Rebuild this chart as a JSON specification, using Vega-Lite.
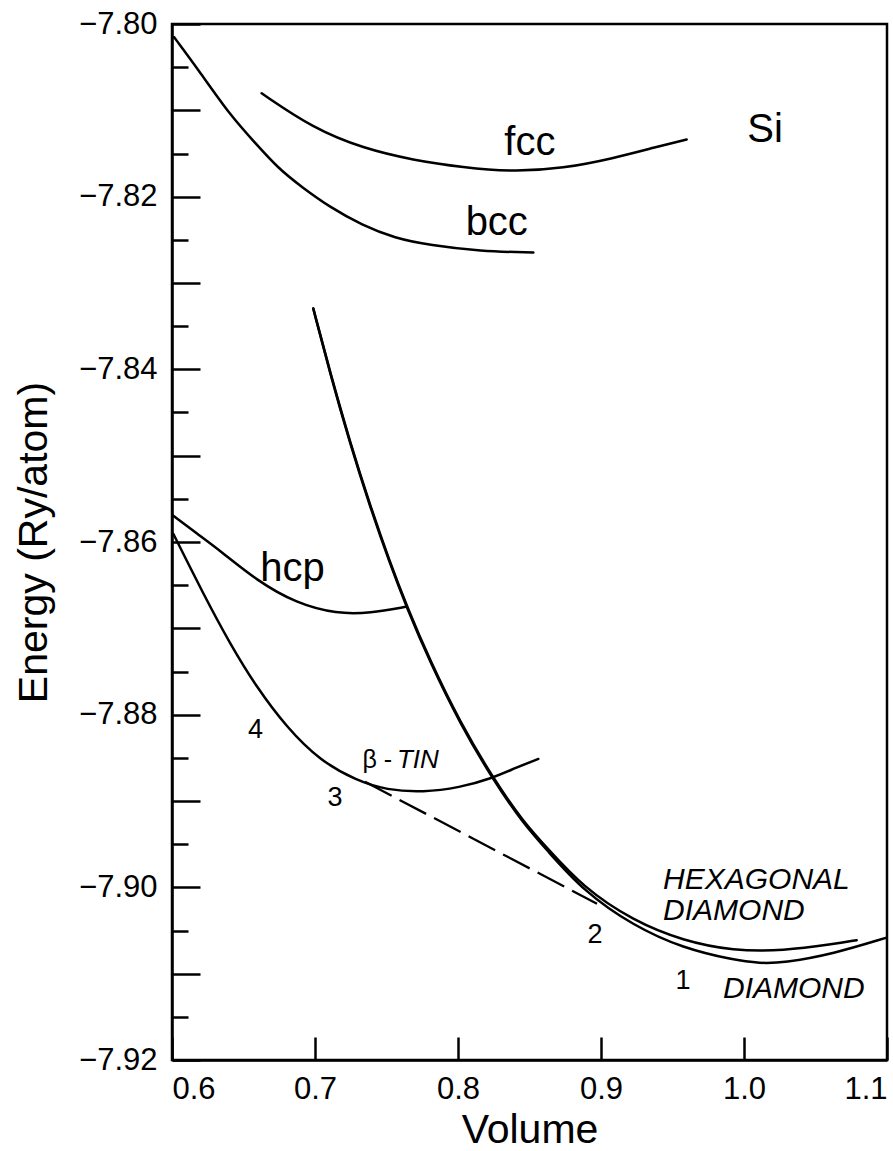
{
  "$schema": "https://vega.github.io/schema/vega-lite/v6.json",
  "width": 715,
  "height": 1036,
  "autosize": "none",
  "padding": {"left": 172, "top": 24, "right": 6, "bottom": 91},
  "background": "white",
  "config": {
    "font": "Liberation Sans",
    "view": {"stroke": "black", "strokeWidth": 2.5},
    "axis": {"domainColor": "black", "tickColor": "black", "labelColor": "black", "titleColor": "black", "grid": false}
  },
  "datasets": {
    "curves": [
      {"phase": "fcc", "v": 0.6627, "e": -7.80803},
      {"phase": "fcc", "v": 0.6988, "e": -7.81209},
      {"phase": "fcc", "v": 0.7338, "e": -7.81441},
      {"phase": "fcc", "v": 0.7687, "e": -7.81577},
      {"phase": "fcc", "v": 0.8037, "e": -7.81661},
      {"phase": "fcc", "v": 0.8385, "e": -7.81712},
      {"phase": "fcc", "v": 0.8736, "e": -7.81673},
      {"phase": "fcc", "v": 0.9084, "e": -7.81557},
      {"phase": "fcc", "v": 0.939, "e": -7.81423},
      {"phase": "fcc", "v": 0.9599, "e": -7.81337},
      {"phase": "bcc", "v": 0.6014, "e": -7.80151},
      {"phase": "bcc", "v": 0.6196, "e": -7.80557},
      {"phase": "bcc", "v": 0.6406, "e": -7.81055},
      {"phase": "bcc", "v": 0.658, "e": -7.81374},
      {"phase": "bcc", "v": 0.6743, "e": -7.81673},
      {"phase": "bcc", "v": 0.6909, "e": -7.8189},
      {"phase": "bcc", "v": 0.7105, "e": -7.82122},
      {"phase": "bcc", "v": 0.7329, "e": -7.8233},
      {"phase": "bcc", "v": 0.7559, "e": -7.82481},
      {"phase": "bcc", "v": 0.7804, "e": -7.82562},
      {"phase": "bcc", "v": 0.8154, "e": -7.82632},
      {"phase": "bcc", "v": 0.8527, "e": -7.82647},
      {"phase": "hcp", "v": 0.6007, "e": -7.85693},
      {"phase": "hcp", "v": 0.6173, "e": -7.85901},
      {"phase": "hcp", "v": 0.6336, "e": -7.86099},
      {"phase": "hcp", "v": 0.6592, "e": -7.86446},
      {"phase": "hcp", "v": 0.6872, "e": -7.86713},
      {"phase": "hcp", "v": 0.7152, "e": -7.86832},
      {"phase": "hcp", "v": 0.7385, "e": -7.86825},
      {"phase": "hcp", "v": 0.7643, "e": -7.86748},
      {"phase": "btin", "v": 0.6009, "e": -7.85905},
      {"phase": "btin", "v": 0.6219, "e": -7.86601},
      {"phase": "btin", "v": 0.6406, "e": -7.8718},
      {"phase": "btin", "v": 0.6592, "e": -7.87683},
      {"phase": "btin", "v": 0.6802, "e": -7.88147},
      {"phase": "btin", "v": 0.7035, "e": -7.88533},
      {"phase": "btin", "v": 0.7292, "e": -7.88765},
      {"phase": "btin", "v": 0.7501, "e": -7.88873},
      {"phase": "btin", "v": 0.7757, "e": -7.88901},
      {"phase": "btin", "v": 0.8014, "e": -7.88843},
      {"phase": "btin", "v": 0.8224, "e": -7.88746},
      {"phase": "btin", "v": 0.841, "e": -7.88611},
      {"phase": "btin", "v": 0.8562, "e": -7.88513},
      {"phase": "hexdiamond", "v": 0.6988, "e": -7.83296},
      {"phase": "hexdiamond", "v": 0.7105, "e": -7.84032},
      {"phase": "hexdiamond", "v": 0.7245, "e": -7.84844},
      {"phase": "hexdiamond", "v": 0.7385, "e": -7.85575},
      {"phase": "hexdiamond", "v": 0.7524, "e": -7.86235},
      {"phase": "hexdiamond", "v": 0.7643, "e": -7.86748},
      {"phase": "hexdiamond", "v": 0.7804, "e": -7.87374},
      {"phase": "hexdiamond", "v": 0.8014, "e": -7.88087},
      {"phase": "hexdiamond", "v": 0.8247, "e": -7.88742},
      {"phase": "hexdiamond", "v": 0.8457, "e": -7.89241},
      {"phase": "hexdiamond", "v": 0.862, "e": -7.89538},
      {"phase": "hexdiamond", "v": 0.8876, "e": -7.90002},
      {"phase": "hexdiamond", "v": 0.9226, "e": -7.90388},
      {"phase": "hexdiamond", "v": 0.9576, "e": -7.9062},
      {"phase": "hexdiamond", "v": 0.9925, "e": -7.90736},
      {"phase": "hexdiamond", "v": 1.0275, "e": -7.90736},
      {"phase": "hexdiamond", "v": 1.0624, "e": -7.90658},
      {"phase": "hexdiamond", "v": 1.0788, "e": -7.90612},
      {"phase": "diamond", "v": 0.6988, "e": -7.83296},
      {"phase": "diamond", "v": 0.7105, "e": -7.84045},
      {"phase": "diamond", "v": 0.7245, "e": -7.84861},
      {"phase": "diamond", "v": 0.7385, "e": -7.85592},
      {"phase": "diamond", "v": 0.7524, "e": -7.86252},
      {"phase": "diamond", "v": 0.7643, "e": -7.86765},
      {"phase": "diamond", "v": 0.7804, "e": -7.87391},
      {"phase": "diamond", "v": 0.8014, "e": -7.88104},
      {"phase": "diamond", "v": 0.8247, "e": -7.8876},
      {"phase": "diamond", "v": 0.8457, "e": -7.89262},
      {"phase": "diamond", "v": 0.862, "e": -7.89565},
      {"phase": "diamond", "v": 0.8876, "e": -7.90041},
      {"phase": "diamond", "v": 0.9226, "e": -7.90446},
      {"phase": "diamond", "v": 0.9576, "e": -7.90707},
      {"phase": "diamond", "v": 0.9925, "e": -7.90841},
      {"phase": "diamond", "v": 1.0112, "e": -7.90881},
      {"phase": "diamond", "v": 1.0275, "e": -7.90875},
      {"phase": "diamond", "v": 1.0624, "e": -7.90771},
      {"phase": "diamond", "v": 1.0998, "e": -7.90582}
    ],
    "tangent": [
      {"v": 0.735, "e": -7.88777},
      {"v": 0.8972, "e": -7.90191}
    ],
    "labels": [
      {"kind": "curve", "text": "fcc", "v": 0.8503, "e": -7.81519},
      {"kind": "curve", "text": "bcc", "v": 0.8271, "e": -7.82446},
      {"kind": "curve", "text": "Si", "v": 1.0147, "e": -7.81368},
      {"kind": "curve", "text": "hcp", "v": 0.6843, "e": -7.86446},
      {"kind": "num", "text": "4", "v": 0.6584, "e": -7.88267},
      {"kind": "num", "text": "3", "v": 0.714, "e": -7.89055},
      {"kind": "num", "text": "2", "v": 0.8958, "e": -7.90643},
      {"kind": "num", "text": "1", "v": 0.9573, "e": -7.91177},
      {"kind": "beta", "text": "β -", "v": 0.7539, "e": -7.88614},
      {"kind": "tin", "text": "TIN", "v": 0.7573, "e": -7.88614},
      {"kind": "phase", "text": "HEXAGONAL", "v": 0.9434, "e": -7.90017},
      {"kind": "phase", "text": "DIAMOND", "v": 0.9434, "e": -7.90377},
      {"kind": "phase", "text": "DIAMOND", "v": 0.9853, "e": -7.91281}
    ]
  },
  "encoding": {
    "x": {
      "field": "v",
      "type": "quantitative",
      "scale": {"domain": [0.6, 1.1], "nice": false, "zero": false},
      "axis": {
        "values": [0.6, 0.7, 0.8, 0.9, 1.0, 1.1],
        "format": ".1f",
        "tickSize": -23,
        "tickWidth": 2.5,
        "domainWidth": 2.5,
        "labelFontSize": 31,
        "labelPadding": 37,
        "labelFlush": true,
        "title": "Volume",
        "titleFontSize": 41,
        "titleFontWeight": "normal",
        "titlePadding": 6
      }
    }
  },
  "layer": [
    {
      "data": {"name": "curves"},
      "mark": {"type": "line", "color": "black", "strokeWidth": 2.5, "interpolate": "basis", "strokeCap": "round"},
      "encoding": {
        "y": {
          "field": "e",
          "type": "quantitative",
          "scale": {"domain": [-7.92, -7.8], "nice": false, "zero": false},
          "axis": {
            "orient": "left",
            "values": [-7.92, -7.91, -7.9, -7.89, -7.88, -7.87, -7.86, -7.85, -7.84, -7.83, -7.82, -7.81, -7.8],
            "labelExpr": "abs(round(datum.value*100)) % 2 == 0 ? format(datum.value, '.2f') : ''",
            "tickSize": -28,
            "tickWidth": 2.5,
            "domainWidth": 2.5,
            "labelFontSize": 31,
            "labelPadding": 43,
            "labelFlush": false,
            "title": "Energy (Ry/atom)",
            "titleFontSize": 41,
            "titleFontWeight": "normal",
            "titlePadding": 23
          }
        },
        "detail": {"field": "phase"}
      }
    },
    {
      "data": {"name": "tangent"},
      "mark": {"type": "line", "color": "black", "strokeWidth": 2.3, "strokeDash": [30, 9]},
      "encoding": {
        "y": {
          "field": "e",
          "type": "quantitative",
          "scale": {"domain": [-7.92, -7.8], "nice": false, "zero": false},
          "axis": {
            "orient": "left",
            "values": [-7.915, -7.905, -7.895, -7.885, -7.875, -7.865, -7.855, -7.845, -7.835, -7.825, -7.815, -7.805],
            "tickSize": -16,
            "tickWidth": 2.5,
            "labels": false,
            "domain": false,
            "title": null
          }
        }
      }
    },
    {
      "data": {"name": "labels"},
      "transform": [{"filter": "datum.kind == 'curve'"}],
      "mark": {"type": "text", "fontSize": 40, "align": "center", "baseline": "alphabetic", "color": "black"},
      "encoding": {
        "y": {"field": "e", "type": "quantitative", "scale": {"domain": [-7.92, -7.8], "nice": false, "zero": false}, "axis": null},
        "text": {"field": "text"}
      }
    },
    {
      "data": {"name": "labels"},
      "transform": [{"filter": "datum.kind == 'num'"}],
      "mark": {"type": "text", "fontSize": 27, "align": "center", "baseline": "alphabetic", "color": "black"},
      "encoding": {
        "y": {"field": "e", "type": "quantitative", "scale": {"domain": [-7.92, -7.8], "nice": false, "zero": false}, "axis": null},
        "text": {"field": "text"}
      }
    },
    {
      "data": {"name": "labels"},
      "transform": [{"filter": "datum.kind == 'beta'"}],
      "mark": {"type": "text", "fontSize": 25, "align": "right", "baseline": "alphabetic", "color": "black"},
      "encoding": {
        "y": {"field": "e", "type": "quantitative", "scale": {"domain": [-7.92, -7.8], "nice": false, "zero": false}, "axis": null},
        "text": {"field": "text"}
      }
    },
    {
      "data": {"name": "labels"},
      "transform": [{"filter": "datum.kind == 'tin'"}],
      "mark": {"type": "text", "fontSize": 26, "fontStyle": "italic", "align": "left", "baseline": "alphabetic", "color": "black"},
      "encoding": {
        "y": {"field": "e", "type": "quantitative", "scale": {"domain": [-7.92, -7.8], "nice": false, "zero": false}, "axis": null},
        "text": {"field": "text"}
      }
    },
    {
      "data": {"name": "labels"},
      "transform": [{"filter": "datum.kind == 'phase'"}],
      "mark": {"type": "text", "fontSize": 30, "fontStyle": "italic", "align": "left", "baseline": "alphabetic", "color": "black"},
      "encoding": {
        "y": {"field": "e", "type": "quantitative", "scale": {"domain": [-7.92, -7.8], "nice": false, "zero": false}, "axis": null},
        "text": {"field": "text"}
      }
    }
  ],
  "resolve": {"axis": {"y": "independent"}}
}
